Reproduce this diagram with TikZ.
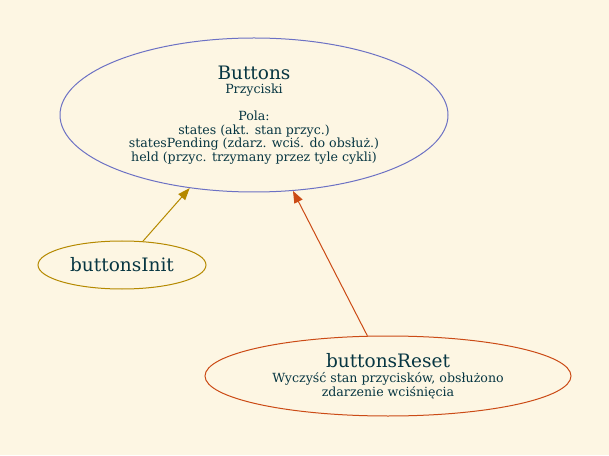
\documentclass[tikz,border=0pt]{standalone}
\usepackage{fontspec}
\setmainfont{DejaVu Serif}
\usepackage{xcolor}
\usepackage{tikz}
\usetikzlibrary{shapes,arrows.meta,positioning}
\definecolor{bgcol}{HTML}{FDF6E3}
\definecolor{txtcol}{HTML}{073642}
\definecolor{violetcol}{HTML}{6C71C4}
\definecolor{yellowcol}{HTML}{B58900}
\definecolor{orangecol}{HTML}{CB4B16}
\tikzstyle{line} = [draw, line width=1pt, -{Triangle[length=12pt,width=9pt]}]
\tikzstyle{func} = [ellipse, draw, line width=1pt, inner sep=0pt, align=center, text=txtcol, font=\smallfont]
\newcommand{\titlefont}{\fontsize{18.5}{13.5}\selectfont}
\newcommand{\smallfont}{\fontsize{12.6}{13.5}\selectfont}

\begin{document}
\begin{tikzpicture}[x=1pt,y=1pt]
  			\fill[bgcol] (0,0) rectangle (609,455); %background
  			\useasboundingbox (0,0) rectangle (609,455);
  			
  			% structure
  			\node[func, draw=violetcol, minimum width=388pt, minimum height=154pt] (buttons) at (254,340)
  			{{\titlefont Buttons}\\[1pt] Przyciski\\[13.5pt]
  			Pola:\\ states (akt. stan przyc.)\\
  			statesPending (zdarz. wciś. do obsłuż.)\\
  			held (przyc. trzymany przez tyle cykli)};
  			
  			% functions
  			\node[func, draw=yellowcol, minimum width=168pt, minimum height=48pt] (init) at (122,190)
  			{\titlefont buttonsInit};
  			\node[func, draw=orangecol, minimum width=366pt, minimum height=80pt] (reset) at (388,79)
  			{{\titlefont buttonsReset}\\[2pt] Wyczyść stan przycisków, obsłużono\\
  			zdarzenie wciśnięcia};
  			
  			\path[line, yellowcol] (init) -- (buttons);
  			\path[line, orangecol] (reset) -- (buttons);
\end{tikzpicture}
\end{document}
